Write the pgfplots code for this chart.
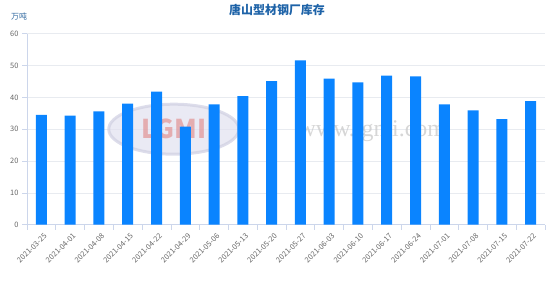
\documentclass[border=0pt]{standalone}
\usepackage{fontspec}
\setmainfont{Noto Sans CJK SC}
\newfontfamily\wmfont{Liberation Serif}
\usepackage{pgfplots}
\pgfplotsset{compat=1.18}
\definecolor{barblue}{HTML}{0A84FF}
\definecolor{titleblue}{HTML}{1E63A8}
\definecolor{gridc}{HTML}{E8EBF0}
\definecolor{axisc}{HTML}{CCD6EB}
\definecolor{tickc}{HTML}{666666}
\pgfplotstableread{
x v
0 34.5
1 34.3
2 35.6
3 38.0
4 41.8
5 30.8
6 37.8
7 40.4
8 45.1
9 51.6
10 45.9
11 44.7
12 46.8
13 46.6
14 37.8
15 35.9
16 33.2
17 38.8
}\stock
\begin{document}
\begin{tikzpicture}
\begin{axis}[
  scale only axis, width=518bp, height=191bp,
  at={(0,0)}, anchor=south west,
  xmin=-0.5, xmax=17.5, ymin=0, ymax=60,
  ytick={0,10,...,60},
  xtick={0,...,17},
  xticklabels={2021-03-25,2021-04-01,2021-04-08,2021-04-15,2021-04-22,2021-04-29,2021-05-06,2021-05-13,2021-05-20,2021-05-27,2021-06-03,2021-06-10,2021-06-17,2021-06-24,2021-07-01,2021-07-08,2021-07-15,2021-07-22},
  minor xtick={-0.5,0.5,...,17.5},
  /pgf/number format/assume math mode=true,
  axis x line*=bottom, axis y line*=left,
  axis line style={axisc, line width=0.6pt},
  ymajorgrids, major grid style={gridc, line width=0.6pt},
  major x tick style={draw=none},
  minor x tick style={axisc, line width=0.6pt},
  major y tick style={axisc, line width=0.6pt},
  tick align=outside,
  major tick length=5bp, minor tick length=5bp,
  x tick label style={rotate=45, anchor=north east, font=\fontsize{7.5}{8}\selectfont, text=tickc, inner sep=0.5pt, yshift=-3pt},
  y tick label style={font=\fontsize{7.5}{8}\selectfont, text=tickc},
  ybar, bar width=11bp,
  clip=false,
]
% watermark
\draw[color=blue!25!gray!30, fill=blue!30!gray!18, line width=3pt, opacity=0.7] (axis cs:4.6,30) ellipse [x radius=65bp, y radius=25bp];
\node[text=red!60!gray!60, font=\bfseries\fontsize{26}{26}\selectfont, opacity=0.6] at (axis cs:4.6,30) {LGMI};
\node[text=gray!40, font=\wmfont\fontsize{24}{24}\selectfont, opacity=0.8] at (axis cs:11.5,29.5) {www.lgmi.com};
\addplot[fill=barblue, draw=none] table[x=x,y=v]{\stock};
\end{axis}
\node[text=titleblue, font=\bfseries\fontsize{12}{12}\selectfont] at (250bp,214.5bp) {唐山型材钢厂库存};
\node[text=titleblue!80!gray, font=\fontsize{8}{8}\selectfont] at (-8bp,208bp) {万吨};
\pgfresetboundingbox
\path[use as bounding box] (-27bp,-58.3bp) rectangle (527bp,224.7bp);
\end{tikzpicture}
\end{document}
